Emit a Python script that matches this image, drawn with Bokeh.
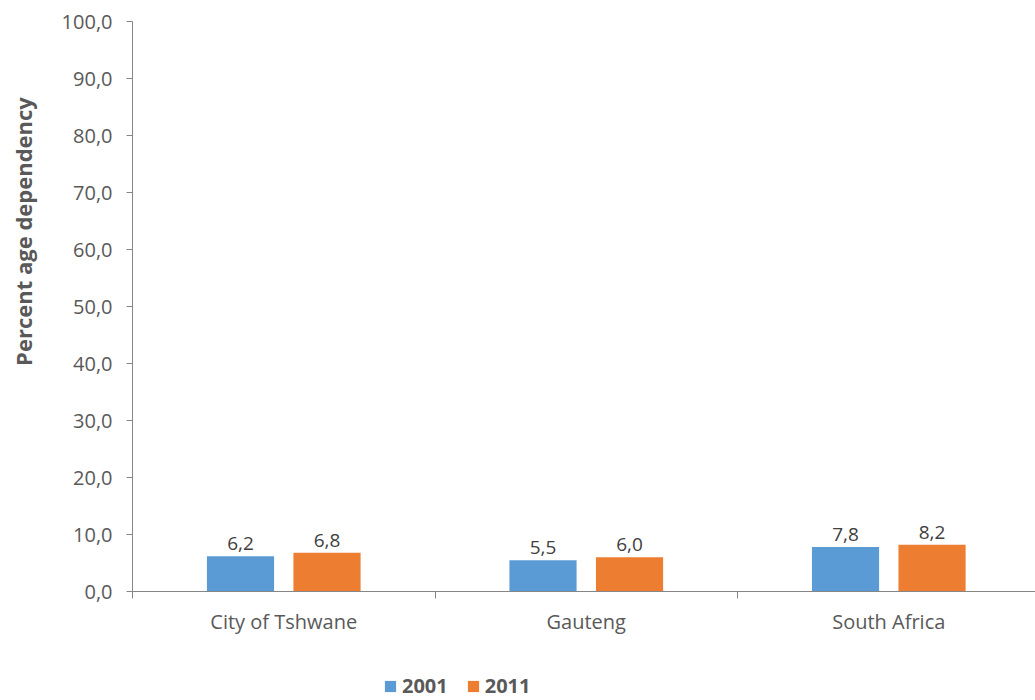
from bokeh.plotting import figure
from bokeh.layouts import column, row
from bokeh.models import (ColumnDataSource, Range1d, FixedTicker, Label, Legend,
                          LegendItem, LabelSet)
from bokeh.core.properties import value
from bokeh.embed import file_html
from bokeh.resources import INLINE
import math

categories = ["City of Tshwane", "Gauteng", "South Africa"]
years = ["2001", "2011"]
values_2001 = [6.2, 5.5, 7.8]
values_2011 = [6.8, 6.0, 8.2]
y_ticks = [0, 10, 20, 30, 40, 50, 60, 70, 80, 90, 100]
y_tick_labels = ["0,0", "10,0", "20,0", "30,0", "40,0", "50,0", "60,0",
                 "70,0", "80,0", "90,0", "100,0"]
y_title = "Percent age dependency"

FONT = "Open Sans"
TXT = "#595959"
BLUE = "#5B9BD5"
ORANGE = "#ED7D31"

# ---------------- main chart ----------------
p = figure(width=995, height=660, output_backend="svg", toolbar_location=None,
           x_range=Range1d(0, 2.985), y_range=Range1d(0, 100),
           min_border_left=92, min_border_right=0, min_border_top=21,
           min_border_bottom=69)
p.outline_line_color = None
p.xgrid.visible = False
p.ygrid.visible = False

offset = 0.143
bw = 0.222
centers = [i + 0.5 for i in range(len(categories))]

def fmt(v):
    return f"{v:.1f}".replace(".", ",")

src1 = ColumnDataSource(dict(x=[c - offset for c in centers], top=values_2001,
                             lab=[fmt(v) for v in values_2001]))
src2 = ColumnDataSource(dict(x=[c + offset for c in centers], top=values_2011,
                             lab=[fmt(v) for v in values_2011]))
p.vbar(x="x", top="top", width=bw, bottom=0, source=src1, fill_color=BLUE, line_color=None)
p.vbar(x="x", top="top", width=bw, bottom=0, source=src2, fill_color=ORANGE, line_color=None)

for s in (src1, src2):
    p.add_layout(LabelSet(x="x", y="top", text="lab", source=s, text_align="center",
                          text_baseline="bottom", y_offset=6, text_font=value(FONT),
                          text_font_size="19px", text_color="#404040"))

ya = p.yaxis[0]
ya.ticker = FixedTicker(ticks=y_ticks, minor_ticks=[])
ya.major_label_overrides = {t: l for t, l in zip(y_ticks, y_tick_labels)}
ya.major_tick_out = 6
ya.major_tick_in = 0
ya.axis_line_color = "#868686"
ya.major_tick_line_color = "#868686"
ya.major_label_text_font = FONT
ya.major_label_text_font_size = "20px"
ya.major_label_text_color = TXT
ya.major_label_standoff = 14

xa = p.xaxis[0]
xa.ticker = FixedTicker(ticks=centers, minor_ticks=[0, 1, 2, 3])
xa.major_label_overrides = {c: n for c, n in zip(centers, categories)}
xa.major_tick_out = 0
xa.major_tick_in = 0
xa.minor_tick_out = 7
xa.minor_tick_in = 0
xa.minor_tick_line_color = "#868686"
xa.axis_line_color = "#868686"
xa.major_label_text_font = FONT
xa.major_label_text_font_size = "20px"
xa.major_label_text_color = TXT
xa.major_label_standoff = 9

# ---------------- y title strip ----------------
t = figure(width=40, height=660, output_backend="svg", toolbar_location=None,
           x_range=Range1d(0, 1), y_range=Range1d(0, 1),
           min_border=0, min_border_left=0, min_border_right=0,
           min_border_top=0, min_border_bottom=0)
t.axis.visible = False
t.grid.visible = False
t.outline_line_color = None
t.add_layout(Label(x=22, y=360, x_units="screen", y_units="screen",
                   text=y_title, angle=math.pi / 2, text_align="center",
                   text_baseline="middle", text_font=FONT,
                   text_font_style="bold", text_font_size="22px", text_color=TXT))

# ---------------- legend strip ----------------
lg = figure(width=1035, height=40, output_backend="svg", toolbar_location=None,
            x_range=Range1d(0, 1), y_range=Range1d(0, 1),
            min_border=0, min_border_left=0, min_border_right=0,
            min_border_top=0, min_border_bottom=0)
lg.axis.visible = False
lg.grid.visible = False
lg.outline_line_color = None
# zero-height legend proxies (draw nothing themselves)
proxy = ColumnDataSource(dict(x=[0.5], top=[0.0]))
d1 = lg.vbar(x="x", top="top", bottom=0, width=0.0, source=proxy,
             fill_color=BLUE, line_color=None)
d2 = lg.vbar(x="x", top="top", bottom=0, width=0.0, source=proxy,
             fill_color=ORANGE, line_color=None)
legend = Legend(items=[LegendItem(label=years[0], renderers=[d1]),
                       LegendItem(label=years[1], renderers=[d2])],
                orientation="horizontal", location=(383, 1),
                label_text_font=FONT, label_text_font_style="bold",
                label_text_font_size="20px", label_text_color=TXT,
                glyph_width=14, glyph_height=14, spacing=18, label_standoff=5,
                border_line_color=None, background_fill_alpha=0, padding=0, margin=0)
lg.add_layout(legend, "center")

layout = column(row(t, p, spacing=0), lg, spacing=0)
open("out.html", "w").write(file_html(layout, INLINE))
